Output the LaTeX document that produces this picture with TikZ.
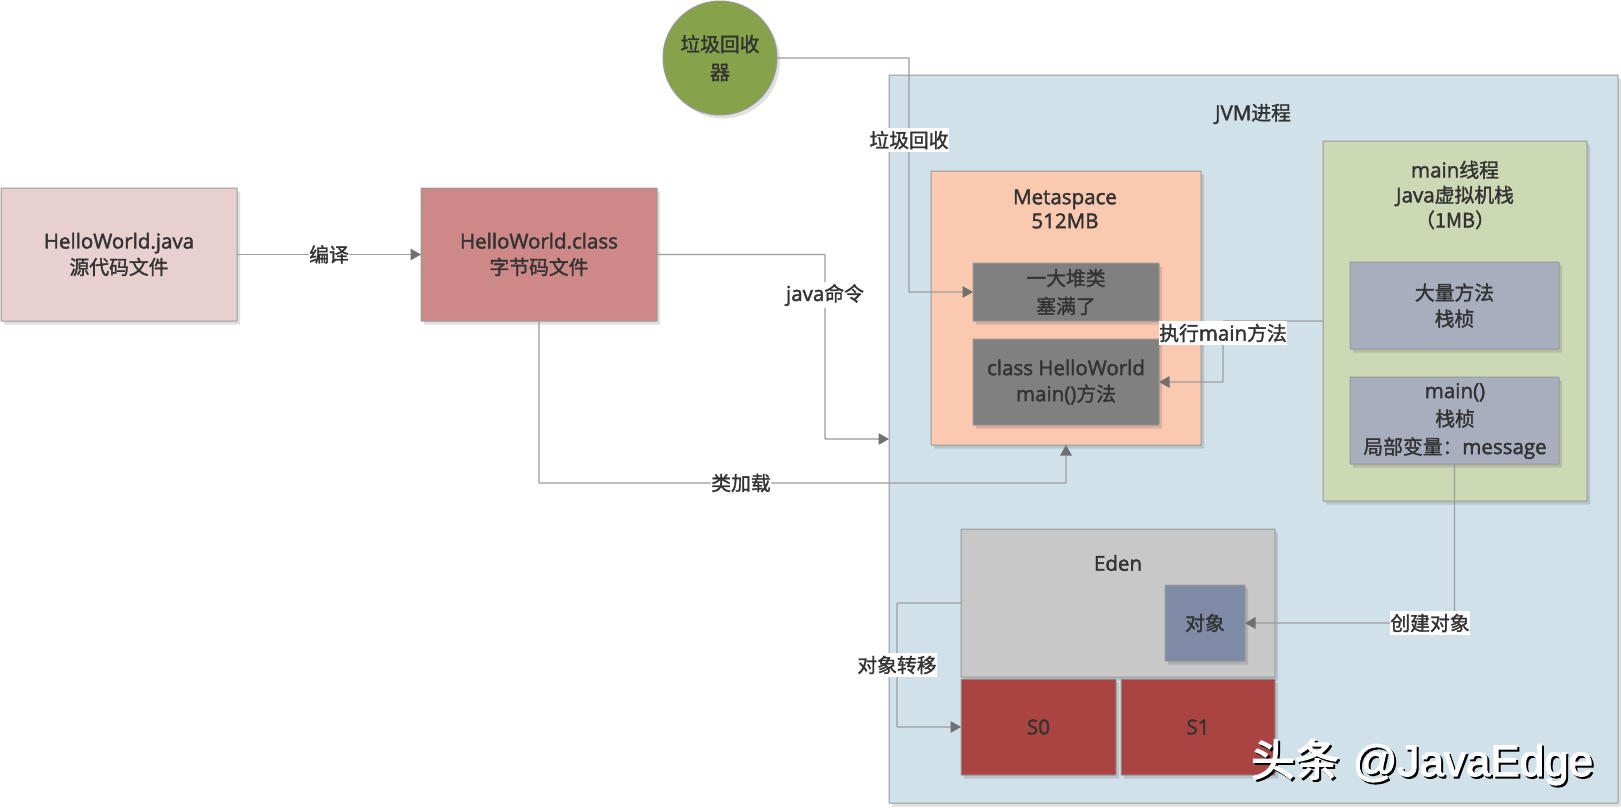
\documentclass[tikz,border=0pt]{standalone}
\usepackage{fontspec}
\setmainfont[Scale=1.14,FakeBold=2]{Open Sans}
\newfontfamily\cjk[Scale=1.1,FakeBold=1.5]{Noto Sans CJK SC}
\newfontfamily\wmfont[FakeBold=2.5]{Liberation Sans}
\newfontfamily\wmcjk[FakeBold=3]{Noto Sans CJK SC}
\newcommand{\cn}[1]{{\cjk #1}}
\usetikzlibrary{arrows.meta,shadows,calc}
\definecolor{txt}{HTML}{333333}
\definecolor{edgec}{HTML}{9C9C9C}
\definecolor{tipc}{HTML}{707070}
\definecolor{frame}{HTML}{999999}
\definecolor{srcc}{HTML}{E8D0D1}
\definecolor{clsc}{HTML}{CE8888}
\definecolor{gcc}{HTML}{86A24B}
\definecolor{jvmc}{HTML}{D0E1EA}
\definecolor{metac}{HTML}{FBC8B0}
\definecolor{grayc}{HTML}{808080}
\definecolor{threadc}{HTML}{CDD8B4}
\definecolor{framec}{HTML}{A9AEBF}
\definecolor{edenc}{HTML}{C8C8C8}
\definecolor{objc}{HTML}{7E8AA6}
\definecolor{survc}{HTML}{A94442}
\tikzset{
  x=1pt,y=-1pt,
  every node/.style={font=\fontsize{18}{26}\selectfont,text=txt,align=center,inner sep=0pt,outer sep=0pt},
  blk/.style={draw=frame,line width=1pt,rectangle,rounded corners=0.6pt,
     drop shadow={shadow xshift=3pt,shadow yshift=-3.5pt,fill=black,opacity=.12}},
  wire/.style={draw=edgec,line width=1.1pt,rounded corners=0.5pt},
  arr/.style={wire,-{Triangle[length=10.5pt,width=11.5pt,color=tipc]}},
  lab/.style={fill=white,inner xsep=0.5pt,inner ysep=2.5pt},
  tight/.style={font=\fontsize{18}{28}\selectfont},
}
\newcommand{\bx}[7]{%
  \pgfmathsetmacro\bw{#4-#2}\pgfmathsetmacro\bh{#5-#3}%
  \pgfmathsetmacro\bcx{(#2+#4)/2}\pgfmathsetmacro\bcy{(#3+#5)/2}%
  \node[blk,fill=#6,minimum width=\bw pt,minimum height=\bh pt] (#1) at (\bcx,\bcy) {#7};}
\begin{document}
\begin{tikzpicture}
\useasboundingbox (0,0) rectangle (1621,807);
\fill[white] (0,0) rectangle (1621,807);

% containers
\bx{jvm}{889}{75}{1618}{803}{jvmc}{}
\node (jvmt) at (1253,114) {JVM\cn{进程}};
\bx{src}{1}{188}{237}{321}{srcc}{HelloWorld.java\\\cn{源代码文件}}
\bx{cls}{421}{188}{657}{321}{clsc}{HelloWorld.class\\\cn{字节码文件}}
\node[blk,circle,fill=gcc,minimum size=114pt] (gc) at (720,58) {};
\node[tight] (gct) at (720,58) {\cn{垃圾回收}\\\cn{器}};

\bx{meta}{931}{171}{1201}{445}{metac}{}
\node[font=\fontsize{18}{24}\selectfont] (metat) at (1065,209) {Metaspace\\512MB};
\bx{pile}{973}{263}{1159}{321}{grayc}{}
\node[tight] (pilet) at (1066,292) {\cn{一大堆类}\\\cn{塞满了}};
\bx{klass}{973}{339}{1159}{425}{grayc}{class HelloWorld\\main()\cn{方法}}

\bx{thread}{1323}{141}{1587}{501}{threadc}{}
\node[font=\fontsize{18}{25}\selectfont] (threadt) at (1455,195) {main\cn{线程}\\Java\cn{虚拟机栈}\\\cn{（1MB）}};
\bx{many}{1350}{262}{1559}{349}{framec}{\cn{大量方法}\\\cn{栈桢}}
\bx{mainf}{1350}{377}{1559}{464}{framec}{}
\node[tight] (mainft) at (1455,421) {main()\\\cn{栈桢}\\\cn{局部变量：}message};

\bx{eden}{961}{529}{1275}{677}{edenc}{}
\node (edent) at (1118,563) {Eden};
\bx{obj}{1165}{585}{1245}{661}{objc}{\cn{对象}}
\bx{szero}{961}{679}{1116}{775}{survc}{S0}
\bx{sone}{1121}{679}{1275}{775}{survc}{S1}

% connector waypoints
\coordinate (gcm) at (909,140);
\coordinate (javam) at (825,295);
\coordinate (loadm) at (741,483);
\coordinate (execm) at (1223,333);
\coordinate (movem) at (897,665);
\coordinate (newm) at (1430,623);
\coordinate (compm) at ($(src.east)!0.5!(cls.west)$);

% connectors
\draw[arr] (src.east) -- (cls.west);
\draw[arr] (cls.east) -| (javam) |- (jvm.west);
\draw[arr] (cls.south) |- (loadm) -| (meta.south);
\draw[arr] (gc.east) -| (gcm) |- (pile.west);
\draw[arr] (thread.west) -| (execm) |- (klass.east);
\draw[arr] (mainf.south) |- (obj.east);
\draw[arr] (eden.west) -| (movem) |- (szero.west);

% connector labels
\node[lab] (compl) at (compm) {\cn{编译}};
\node[lab] (javal) at (javam) {java\cn{命令}};
\node[lab] (loadl) at (loadm) {\cn{类加载}};
\node[lab] (gcl) at (gcm) {\cn{垃圾回收}};
\node[lab] (execl) at (execm) {\cn{执行}main\cn{方法}};
\node[lab] (movel) at (movem) {\cn{对象转移}};
\node[lab] (newl) at (newm) {\cn{创建对象}};

% watermark
\node[text=black,font=\fontsize{44}{44}\selectfont] (wmshadow) at (1424,764) {\wmcjk 头条\hspace{4pt} \wmfont @JavaEdge};
\node[text=white,font=\fontsize{44}{44}\selectfont] (wm) at (1422,762) {\wmcjk 头条\hspace{4pt} \wmfont @JavaEdge};
\end{tikzpicture}
\end{document}
